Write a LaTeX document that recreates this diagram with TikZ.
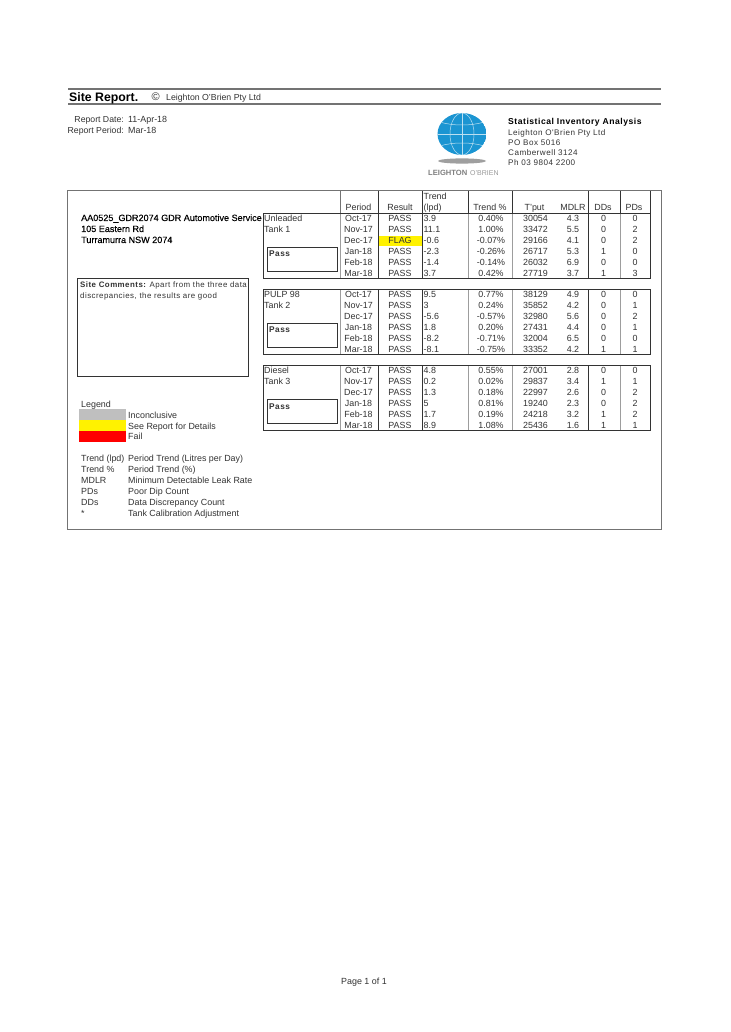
\documentclass[tikz,border=0pt]{standalone}
\usepackage{fontspec}
\setmainfont{Liberation Sans}
\newfontfamily\widefont[LetterSpace=6]{Liberation Sans}
\newfontfamily\addrfont[FakeBold=0.3]{Liberation Sans}
\definecolor{inktext}{gray}{0.2}
\definecolor{rulegray}{gray}{0.45}
\definecolor{globeblue}{HTML}{1B95D2}
\tikzset{
  txt/.style={inner sep=0pt, anchor=base west, text=inktext, font=\fontsize{8.9}{10}\selectfont},
  mid/.style={txt, anchor=base},
  rgt/.style={txt, anchor=base east, font=\fontsize{8.7}{10}\selectfont},
  wide/.style={txt, font=\fontsize{8.1}{10}\widefont},
  boxline/.style={draw=inktext, line width=0.9pt},
  inner/.style={draw=inktext, line width=0.8pt},
  faint/.style={draw=rulegray!70, line width=0.8pt}
}
% one tank: y shift, tag, then the six rows
\newcommand{\tankrows}[3]{
\begin{scope}[shift={(0,#1)}]
\foreach \per/\res/\lpd/\pct/\tput/\mdlr/\dd/\pd [count=\r] in {#3} {
  \pgfmathsetmacro{\yy}{221.2+11*(\r-1)}
  \node [mid] (per#2\r) at (358.5,\yy) {\per};
  \node [mid] (res#2\r) at (400,\yy) {\res};
  \node [txt] (lpd#2\r) at (423.5,\yy) {\lpd};
  \node [mid] (pct#2\r) at (491,\yy) {\pct};
  \node [mid] (tput#2\r) at (535.5,\yy) {\tput};
  \node [mid] (mdlr#2\r) at (573,\yy) {\mdlr};
  \node [mid] (dd#2\r) at (603.5,\yy) {\dd};
  \node [mid] (pd#2\r) at (635,\yy) {\pd};
}
\end{scope}
}
% box round a tank, with its column lines and the Pass box
\newcommand{\tankframe}[4]{
\begin{scope}[shift={(0,#1)}]
\draw [faint] (340,213) -- (340,278);
\draw [faint] (468,213) -- (468,278);
\draw [faint] (512,213) -- (512,278);
\draw [faint] (620,213) -- (620,278);
\draw [inner] (378,213) -- (378,278);
\draw [inner] (422,213) -- (422,278);
\draw [inner] (588,213) -- (588,278);
\draw [boxline] (263,213) rectangle (650,278);
\draw [inner] (267,247) rectangle (337,271);
\node [txt] (fuel#2) at (264,221.2) {#3};
\node [txt] (tank#2) at (264,232.2) {#4};
\node [wide, font=\fontsize{8.3}{10}\bfseries\widefont] (pass#2) at (269,256.5) {Pass};
\end{scope}
}
\begin{document}
\begin{tikzpicture}[x=1pt,y=-1pt]
\useasboundingbox (0,0) rectangle (730,1032);
\fill [white] (0,0) rectangle (730,1032);

% title bar
\draw [rulegray, line width=1.6pt] (68,89) -- (661,89);
\draw [rulegray, line width=1.3pt] (68,104) -- (661,104);
\node [txt, font=\fontsize{12.3}{14}\bfseries, text=black] (title) at (69,101.3) {Site Report.};
\node [txt, font=\fontsize{11}{12}\selectfont] (copy) at (151.5,101) {©};
\node [txt, font=\fontsize{8.75}{10}\selectfont] (owner) at (166,101) {Leighton O'Brien Pty Ltd};
\node [rgt] (datelab) at (124,123) {Report Date:};
\node [txt] (dateval) at (128,123) {11-Apr-18};
\node [rgt] (perlab) at (124,134) {Report Period:};
\node [txt] (perval) at (128,134) {Mar-18};

% logo
\begin{scope}
\clip (462,134) ellipse [x radius=24.5, y radius=21];
\fill [globeblue] (462,134) ellipse [x radius=24.5, y radius=21];
\draw [white!70!globeblue, line width=0.5pt] (462,134) ellipse [x radius=12, y radius=21];
\draw [white!70!globeblue, line width=0.5pt] (462,113) -- (462,155);
\draw [white!70!globeblue, line width=0.5pt] (437,134) -- (487,134);
\draw [white!70!globeblue, line width=0.5pt] (440,122) .. controls (452,126) and (472,126) .. (484,122);
\draw [white!70!globeblue, line width=0.5pt] (440,146) .. controls (452,142) and (472,142) .. (484,146);
\end{scope}
\fill [gray!75] (462,161) ellipse [x radius=24, y radius=2.6];
\node [txt, font=\fontsize{7.6}{8}\bfseries, text=gray] (logoa) at (428,176) {LEIGHTON};
\node [txt, font=\fontsize{7}{8}\selectfont, text=gray!80] (logob) at (470,176) {O'BRIEN};

% address block
\node [wide, font=\fontsize{8.6}{10}\bfseries\widefont, text=black] (sia) at (508,125) {Statistical Inventory Analysis};
\node [wide] (addra) at (508,135.5) {Leighton O'Brien Pty Ltd};
\node [wide] (addrb) at (508,146) {PO Box 5016};
\node [wide] (addrc) at (508,156) {Camberwell 3124};
\node [wide] (addrd) at (508,166) {Ph 03 9804 2200};

% main frame
\draw [rulegray, line width=1pt] (67,191) rectangle (661,529);
\draw [rulegray, line width=0.8pt] (340,191) -- (340,213);
\foreach \xx in {378,422,468,512,588,620,650}
  \draw [inner] (\xx,191) -- (\xx,213);

% header
\node [mid] (hper) at (358.5,210.5) {Period};
\node [mid] (hres) at (400,210.5) {Result};
\node [txt] (hlpda) at (423.5,200) {Trend};
\node [txt] (hlpdb) at (423.5,210.5) {(lpd)};
\node [mid] (hpct) at (490,210.5) {Trend \%};
\node [mid] (htput) at (534.5,210.5) {T'put};
\node [mid] (hmdlr) at (573,210.5) {MDLR};
\node [mid] (hdd) at (603,210.5) {DDs};
\node [mid] (hpd) at (634,210.5) {PDs};

% site
\node [txt, font=\fontsize{9.05}{10}\addrfont, text=black] (site) at (81,221) {AA0525\_GDR2074 GDR Automotive Service};
\node [txt, font=\fontsize{9.05}{10}\addrfont, text=black] (street) at (81,232) {105 Eastern Rd};
\node [txt, font=\fontsize{9.05}{10}\addrfont, text=black] (town) at (81,243) {Turramurra NSW 2074};

% comments
\draw [boxline] (77,278) rectangle (248,376);
\node [wide, font=\fontsize{7.9}{10}\widefont] (comma) at (80,287) {\bfseries Site Comments: \mdseries Apart from the three data};
\node [wide, font=\fontsize{7.9}{10}\widefont] (commb) at (80,298.5) {discrepancies, the results are good};

% tanks
\fill [yellow] (378,235.5) rectangle (422,246);
\tankframe{0}{a}{Unleaded}{Tank 1}
\tankframe{76}{b}{PULP 98}{Tank 2}
\tankframe{152.5}{c}{Diesel}{Tank 3}
\tankrows{0}{a}{Oct-17/PASS/3.9/0.40\%/30054/4.3/0/0,
  Nov-17/PASS/11.1/1.00\%/33472/5.5/0/2,
  Dec-17/FLAG/-0.6/-0.07\%/29166/4.1/0/2,
  Jan-18/PASS/-2.3/-0.26\%/26717/5.3/1/0,
  Feb-18/PASS/-1.4/-0.14\%/26032/6.9/0/0,
  Mar-18/PASS/3.7/0.42\%/27719/3.7/1/3}
\tankrows{76}{b}{Oct-17/PASS/9.5/0.77\%/38129/4.9/0/0,
  Nov-17/PASS/3/0.24\%/35852/4.2/0/1,
  Dec-17/PASS/-5.6/-0.57\%/32980/5.6/0/2,
  Jan-18/PASS/1.8/0.20\%/27431/4.4/0/1,
  Feb-18/PASS/-8.2/-0.71\%/32004/6.5/0/0,
  Mar-18/PASS/-8.1/-0.75\%/33352/4.2/1/1}
\tankrows{152.5}{c}{Oct-17/PASS/4.8/0.55\%/27001/2.8/0/0,
  Nov-17/PASS/0.2/0.02\%/29837/3.4/1/1,
  Dec-17/PASS/1.3/0.18\%/22997/2.6/0/2,
  Jan-18/PASS/5/0.81\%/19240/2.3/0/2,
  Feb-18/PASS/1.7/0.19\%/24218/3.2/1/2,
  Mar-18/PASS/8.9/1.08\%/25436/1.6/1/1}

% legend
\node [txt] (legend) at (81,407) {Legend};
\fill [gray!50] (79,409) rectangle (126,420);
\fill [yellow] (79,420) rectangle (126,431);
\fill [red] (79,431) rectangle (126,442);
\node [txt] (lega) at (128,418) {Inconclusive};
\node [txt] (legb) at (128,429) {See Report for Details};
\node [txt] (legc) at (128,439.5) {Fail};

% glossary
\foreach \abbr/\descr [count=\g] in {Trend (lpd)/Period Trend (Litres per Day),
  Trend \%/Period Trend (\%),
  MDLR/Minimum Detectable Leak Rate,
  PDs/Poor Dip Count,
  DDs/Data Discrepancy Count,
  */Tank Calibration Adjustment} {
  \pgfmathsetmacro{\yy}{461+11*(\g-1)}
  \node [txt] (abbr\g) at (81,\yy) {\abbr};
  \node [txt] (descr\g) at (128,\yy) {\descr};
}

% footer
\node [mid] (page) at (364,984) {Page 1 of 1};
\end{tikzpicture}
\end{document}
